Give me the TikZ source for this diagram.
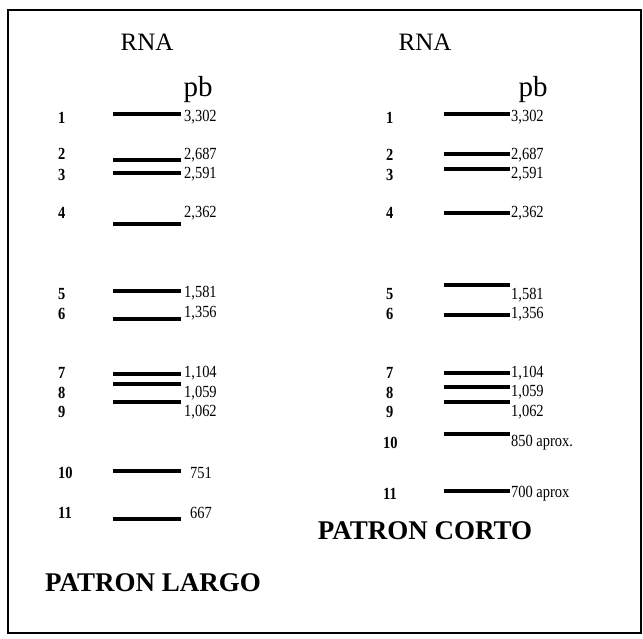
\documentclass[tikz,border=0pt]{standalone}
\usepackage{fontspec}
\setmainfont{Liberation Serif}
\newfontfamily\condfont[FakeStretch=0.85]{Liberation Serif}
\begin{document}
\begin{tikzpicture}[x=1pt,y=-1pt,
  band/.style={line width=3.6pt},
  num/.style={font=\condfont\bfseries\fontsize{17}{17}\selectfont, anchor=west, inner sep=0pt},
  val/.style={font=\condfont\fontsize{17}{17}\selectfont, anchor=west, inner sep=0pt},
  head/.style={font=\fontsize{25}{25}\selectfont, inner sep=0pt},
  unit/.style={font=\fontsize{29}{29}\selectfont, inner sep=0pt},
  title/.style={font=\bfseries\fontsize{27}{27}\selectfont, inner sep=0pt}]
\useasboundingbox (0,0) rectangle (643,638);
\draw[line width=2.2pt] (8,10) rectangle (641,633);

% headers
\node[head] (rnaL) at (147,42) {RNA};
\node[head] (rnaR) at (425,42) {RNA};
\node[unit] (pbL) at (198,90) {pb};
\node[unit] (pbR) at (533,90) {pb};

% left pattern
\foreach \n/\ny/\by/\ly/\lx/\t in {
  1/118/114/117/184/{3,302},
  2/154/160/155/184/{2,687},
  3/175/173/174/184/{2,591},
  4/213/224/213/184/{2,362},
  5/294/291/293/184/{1,581},
  6/314/319/313/184/{1,356},
  7/373/374/373/184/{1,104},
  8/393/384/393/184/{1,059},
  9/412/402/412/184/{1,062},
  10/473/471/473/190/{751},
  11/513/519/513/190/{667}}{
  \node[num] (nL\n) at (58,\ny) {\n};
  \draw[band] (113,\by) -- (181,\by);
  \node[val] (vL\n) at (\lx,\ly) {\t};
}

% right pattern
\foreach \n/\ny/\by/\ly/\nx/\t in {
  1/118/114/117/386/{3,302},
  2/155/154/155/386/{2,687},
  3/175/169/174/386/{2,591},
  4/213/213/213/386/{2,362},
  5/294/285/295/386/{1,581},
  6/314/315/314/386/{1,356},
  7/373/373/373/386/{1,104},
  8/393/387/392/386/{1,059},
  9/412/402/412/386/{1,062},
  10/443/434/443/383/{850 aprox.},
  11/494/491/494/383/{700 aprox}}{
  \node[num] (nR\n) at (\nx,\ny) {\n};
  \draw[band] (444,\by) -- (510,\by);
  \node[val] (vR\n) at (511,\ly) {\t};
}

% titles
\node[title, anchor=west] (largo) at (45,583) {PATRON LARGO};
\node[title] (corto) at (425,531) {PATRON CORTO};
\end{tikzpicture}
\end{document}
